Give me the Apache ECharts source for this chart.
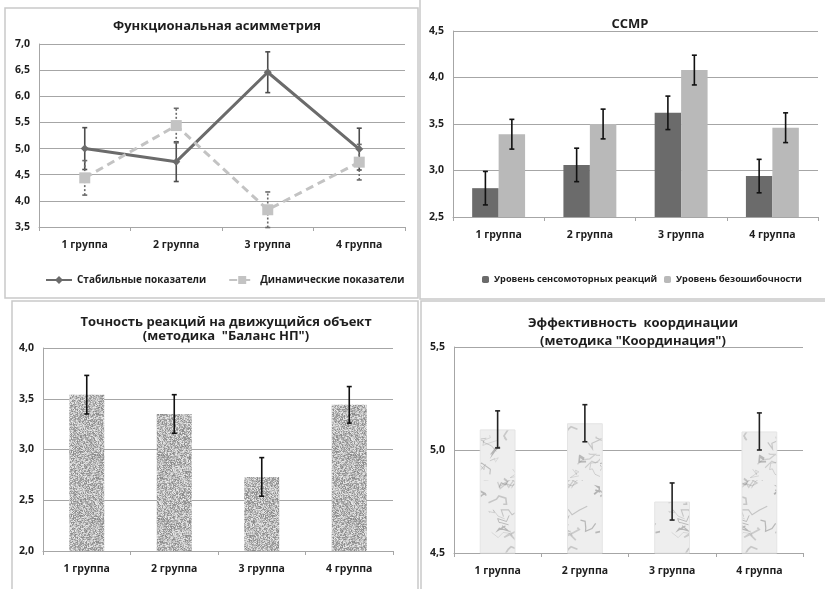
<!DOCTYPE html>
<html>
<head>
<meta charset="utf-8">
<script src="https://cdn.jsdelivr.net/npm/echarts@6/dist/echarts.min.js"></script>
<style>
  html, body { margin: 0; padding: 0; background: #fff; }
  #main { width: 825px; height: 589px; }
</style>
</head>
<body>
<div id="main"></div>
<script>
// data
var groups = ['1 группа', '2 группа', '3 группа', '4 группа'];

var asymStable = [5.0, 4.75, 6.46, 4.99];
var asymStableErr = [0.4, 0.38, 0.39, 0.4];
var asymDynamic = [4.44, 5.44, 3.83, 4.74];
var asymDynamicErr = [0.33, 0.33, 0.34, 0.34];

var ssmrSensor = [2.81, 3.06, 3.62, 2.94];
var ssmrSensorErr = [0.18, 0.18, 0.18, 0.18];
var ssmrAccuracy = [3.39, 3.50, 4.08, 3.46];
var ssmrAccuracyErr = [0.16, 0.16, 0.16, 0.16];

var balance = [3.54, 3.35, 2.73, 3.44];
var balanceErr = [0.19, 0.19, 0.19, 0.18];

var coord = [5.10, 5.13, 4.75, 5.09];
var coordErr = [0.09, 0.09, 0.09, 0.09];

var FONT = 'Open Sans';
var TXT = '#1e1e1e';

// simple deterministic generator for the bar textures
function lcg(seed) {
    var s = seed;
    return function () {
        s = (s * 1103515245 + 12345) % 2147483648;
        return s / 2147483648;
    };
}

function granite() {
    var c = document.createElement('canvas');
    c.width = 64; c.height = 64;
    var ctx = c.getContext('2d');
    var img = ctx.createImageData(64, 64);
    var rnd = lcg(7);
    for (var i = 0; i < 64 * 64; i++) {
        var v = Math.round(135 + rnd() * 100);
        img.data[i * 4] = v; img.data[i * 4 + 1] = v; img.data[i * 4 + 2] = v; img.data[i * 4 + 3] = 255;
    }
    ctx.putImageData(img, 0, 0);
    return c;
}

function marble() {
    var c = document.createElement('canvas');
    c.width = 60; c.height = 120;
    var ctx = c.getContext('2d');
    ctx.fillStyle = '#eeeeee';
    ctx.fillRect(0, 0, 60, 120);
    var rnd = lcg(31);
    for (var k = 0; k < 30; k++) {
        var x = rnd() * 60, y = rnd() * 120;
        ctx.strokeStyle = 'rgba(150,150,150,' + (0.3 + rnd() * 0.4) + ')';
        ctx.lineWidth = 0.5 + rnd() * 1.3;
        ctx.beginPath();
        ctx.moveTo(x, y);
        for (var j = 0; j < 5; j++) {
            x += (rnd() - 0.5) * 18; y += (rnd() - 0.5) * 14;
            ctx.lineTo(x, y);
        }
        ctx.stroke();
    }
    return c;
}

function fmt(v) { return v.toFixed(1).replace('.', ','); }

function errData(vals, errs) {
    return vals.map(function (v, i) { return [i, v - errs[i], v + errs[i]]; });
}

function errRender(offset, color, dash) {
    return function (params, api) {
        var c = api.value(0);
        var lo = api.coord([c, api.value(1)]);
        var hi = api.coord([c, api.value(2)]);
        var band = api.size([1, 0])[0];
        var x = lo[0] + offset * band;
        var st = { stroke: color, lineWidth: 1.6, lineDash: dash || null };
        return {
            type: 'group',
            children: [
                { type: 'line', shape: { x1: x, y1: lo[1], x2: x, y2: hi[1] }, style: st },
                { type: 'line', shape: { x1: x - 2.5, y1: hi[1], x2: x + 2.5, y2: hi[1] }, style: { stroke: color, lineWidth: 1.6 } },
                { type: 'line', shape: { x1: x - 2.5, y1: lo[1], x2: x + 2.5, y2: lo[1] }, style: { stroke: color, lineWidth: 1.6 } }
            ]
        };
    };
}

function catAxis(idx) {
    return {
        type: 'category', gridIndex: idx, data: groups,
        axisLine: { show: true, lineStyle: { color: '#a6a6a6', width: 1 } },
        axisTick: { show: true, length: 4, lineStyle: { color: '#a6a6a6' } },
        axisLabel: { fontFamily: FONT, fontWeight: 'bold', fontSize: 10.5, color: TXT, margin: 13 }
    };
}

function valAxis(idx, min, max) {
    return {
        type: 'value', gridIndex: idx, min: min, max: max, interval: 0.5,
        axisLine: { show: true, lineStyle: { color: '#a6a6a6', width: 1 } },
        axisTick: { show: false },
        splitLine: { lineStyle: { color: '#a6a6a6', width: 1 } },
        axisLabel: { fontFamily: FONT, fontWeight: 'bold', fontSize: 10.5, color: TXT, margin: 9, formatter: fmt }
    };
}

var titleStyle = { fontFamily: FONT, fontWeight: 'bold', fontSize: 13, color: TXT };
var legendText = { fontFamily: FONT, fontWeight: 'bold', fontSize: 10, color: TXT };
var legendSmall = { fontFamily: FONT, fontWeight: 'bold', fontSize: 9.2, color: TXT };

var myChart = echarts.init(document.getElementById('main'));
var option = {
    backgroundColor: '#ffffff',
    animation: false,
    title: [
        { text: 'Функциональная асимметрия', left: 212, top: 15, textAlign: 'center', textStyle: titleStyle },
        { text: 'CCMP', left: 625, top: 13, textAlign: 'center', textStyle: titleStyle },
        { text: 'Точность реакций на движущийся объект\n(методика  "Баланс НП")', left: 221, top: 310, textAlign: 'center',
          textStyle: Object.assign({ lineHeight: 14 }, titleStyle) },
        { text: 'Эффективность  координации\n(методика "Координация")', left: 628, top: 309, textAlign: 'center',
          textStyle: Object.assign({ lineHeight: 18 }, titleStyle) }
    ],
    legend: [
        { data: ['Стабильные показатели', 'Динамические показатели'], left: 40, top: 270, width: 380, itemGap: 22,
          itemWidth: 26, itemHeight: 10, textStyle: legendText },
        { data: ['Уровень сенсомоторных реакций'], left: 477, top: 270,
          itemWidth: 7, itemHeight: 7, textStyle: legendSmall },
        { data: ['Уровень безошибочности'], left: 659, top: 270,
          itemWidth: 7, itemHeight: 7, textStyle: legendSmall }
    ],
    grid: [
        { left: 39, right: 420, top: 44, bottom: 362 },
        { left: 453, right: 7, top: 31, bottom: 372 },
        { left: 43, right: 432, top: 348, bottom: 38 },
        { left: 454, right: 22, top: 347, bottom: 36 }
    ],
    xAxis: [catAxis(0), catAxis(1), catAxis(2), catAxis(3)],
    yAxis: [valAxis(0, 3.5, 7), valAxis(1, 2.5, 4.5), valAxis(2, 2, 4), valAxis(3, 4.5, 5.5)],
    graphic: [
        { type: 'rect', shape: { x: 5, y: 8, width: 413, height: 290 }, style: { fill: 'none', stroke: '#c9c9c9', lineWidth: 1.5 } },
        { type: 'rect', shape: { x: 420, y: -5, width: 410, height: 304 }, style: { fill: 'none', stroke: '#c9c9c9', lineWidth: 1.5 } },
        { type: 'rect', shape: { x: 12, y: 301, width: 406, height: 300 }, style: { fill: 'none', stroke: '#c9c9c9', lineWidth: 1.5 } },
        { type: 'rect', shape: { x: 421, y: 301, width: 410, height: 300 }, style: { fill: 'none', stroke: '#c9c9c9', lineWidth: 1.5 } }
    ],
    series: [
        // panel 1
        { type: 'custom', xAxisIndex: 0, yAxisIndex: 0, renderItem: errRender(0, '#4d4d4d'),
          data: errData(asymStable, asymStableErr), encode: { x: 0, y: [1, 2] }, z: 3 },
        { type: 'custom', xAxisIndex: 0, yAxisIndex: 0, renderItem: errRender(0, '#6a6a6a', [2, 2]),
          data: errData(asymDynamic, asymDynamicErr), encode: { x: 0, y: [1, 2] }, z: 3 },
        { name: 'Стабильные показатели', type: 'line', xAxisIndex: 0, yAxisIndex: 0, data: asymStable,
          symbol: 'diamond', symbolSize: 8, lineStyle: { color: '#6b6b6b', width: 3 },
          itemStyle: { color: '#6b6b6b' }, z: 4 },
        { name: 'Динамические показатели', type: 'line', xAxisIndex: 0, yAxisIndex: 0, data: asymDynamic,
          symbol: 'rect', symbolSize: 11, lineStyle: { color: '#c3c3c3', width: 3, type: [8, 5] },
          itemStyle: { color: '#c3c3c3' }, z: 5 },
        // panel 2
        { name: 'Уровень сенсомоторных реакций', type: 'bar', xAxisIndex: 1, yAxisIndex: 1, data: ssmrSensor,
          barWidth: '29%', barGap: '0%', itemStyle: { color: '#6b6b6b' } },
        { name: 'Уровень безошибочности', type: 'bar', xAxisIndex: 1, yAxisIndex: 1, data: ssmrAccuracy,
          barWidth: '29%', barGap: '0%', itemStyle: { color: '#b9b9b9' } },
        { type: 'custom', xAxisIndex: 1, yAxisIndex: 1, renderItem: errRender(-0.145, '#111'),
          data: errData(ssmrSensor, ssmrSensorErr), encode: { x: 0, y: [1, 2] }, z: 5 },
        { type: 'custom', xAxisIndex: 1, yAxisIndex: 1, renderItem: errRender(0.145, '#111'),
          data: errData(ssmrAccuracy, ssmrAccuracyErr), encode: { x: 0, y: [1, 2] }, z: 5 },
        // panel 3
        { type: 'bar', xAxisIndex: 2, yAxisIndex: 2, data: balance, barWidth: '40%',
          itemStyle: { color: { image: granite(), repeat: 'repeat' } } },
        { type: 'custom', xAxisIndex: 2, yAxisIndex: 2, renderItem: errRender(0, '#111'),
          data: errData(balance, balanceErr), encode: { x: 0, y: [1, 2] }, z: 5 },
        // panel 4
        { type: 'bar', xAxisIndex: 3, yAxisIndex: 3, data: coord, barWidth: '41%',
          itemStyle: { color: { image: marble(), repeat: 'repeat' }, borderColor: '#e4e4e4', borderWidth: 1 } },
        { type: 'custom', xAxisIndex: 3, yAxisIndex: 3, renderItem: errRender(0, '#222'),
          data: errData(coord, coordErr), encode: { x: 0, y: [1, 2] }, z: 5 }
    ]
};
myChart.setOption(option);
</script>
</body>
</html>
